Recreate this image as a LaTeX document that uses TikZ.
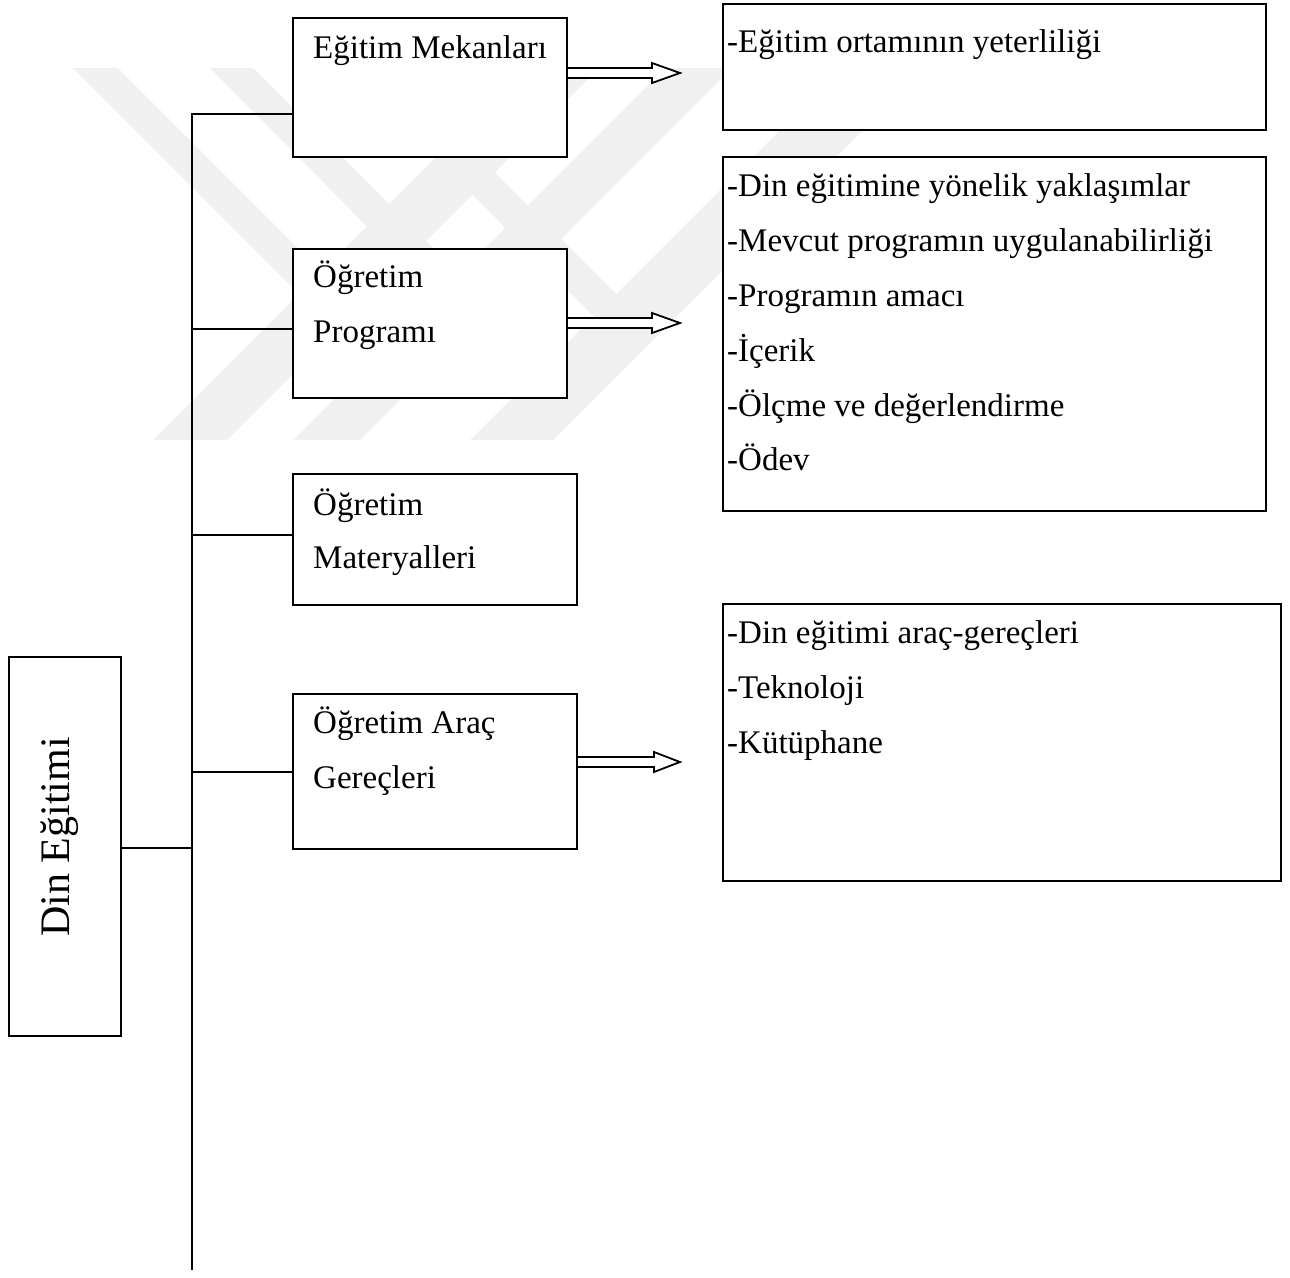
\documentclass[tikz,border=0pt]{standalone}
\usepackage{fontspec}
\setmainfont{Liberation Serif}
\begin{document}
\begin{tikzpicture}[x=1pt,y=-1pt,
  box/.style={draw=black, line width=2pt, fill=white, inner sep=0pt, anchor=north west},
  lbl/.style={anchor=base west, inner sep=0pt, font=\fontsize{33}{40}\selectfont},
  conn/.style={line width=2pt},
  harr/.style={line width=1.8pt, fill=white, line join=miter},
  wm/.style={fill=black!6, draw=none}]
\path[use as bounding box] (0,0) rectangle (1290,1277);
% watermark (approximate)
\fill[wm] (73,68) -- (118,68) -- (322,272) -- (299,294) -- cycle;
\fill[wm] (210,68) -- (253,68) -- (459,274) -- (436,296) -- cycle;
\fill[wm] (347,68) -- (390,68) -- (616,294) -- (593,316) -- cycle;
\fill[wm] (153,440) -- (227,440) -- (599,68) -- (525,68) -- cycle;
\fill[wm] (293,440) -- (360,440) -- (732,68) -- (665,68) -- cycle;
\fill[wm] (470,440) -- (553,440) -- (925,68) -- (842,68) -- cycle;
% main box
\node[box, minimum width=112pt, minimum height=379pt] (d) at (8,656) {};
\node[anchor=base, rotate=90, inner sep=0pt, font=\fontsize{42}{50}\selectfont] (dt) at (69,837) {Din Eğitimi};
% left boxes
\node[box, minimum width=274pt, minimum height=139pt] (b1) at (292,17) {};
\node[box, minimum width=274pt, minimum height=149pt] (b2) at (292,248) {};
\node[box, minimum width=284pt, minimum height=131pt] (b3) at (292,473) {};
\node[box, minimum width=284pt, minimum height=155pt] (b4) at (292,693) {};
\node[lbl] (t1) at (313,58) {Eğitim Mekanları};
\node[lbl] (t2a) at (313,287) {Öğretim};
\node[lbl] (t2b) at (313,342) {Programı};
\node[lbl] (t3a) at (313,515) {Öğretim};
\node[lbl] (t3b) at (313,568) {Materyalleri};
\node[lbl] (t4a) at (313,733) {Öğretim Araç};
\node[lbl] (t4b) at (313,788) {Gereçleri};
% right boxes
\node[box, minimum width=543pt, minimum height=126pt] (r1) at (722,3) {};
\node[box, minimum width=543pt, minimum height=354pt] (r2) at (722,156) {};
\node[box, minimum width=558pt, minimum height=277pt] (r3) at (722,603) {};
\node[lbl] (s1) at (727,52) {-Eğitim ortamının yeterliliği};
\node[lbl] (s2a) at (727,196) {-Din eğitimine yönelik yaklaşımlar};
\node[lbl] (s2b) at (727,251) {-Mevcut programın uygulanabilirliği};
\node[lbl] (s2c) at (727,306) {-Programın amacı};
\node[lbl] (s2d) at (727,361) {-İçerik};
\node[lbl] (s2e) at (727,416) {-Ölçme ve değerlendirme};
\node[lbl] (s2f) at (727,470) {-Ödev};
\node[lbl] (s3a) at (727,643) {-Din eğitimi araç-gereçleri};
\node[lbl] (s3b) at (727,698) {-Teknoloji};
\node[lbl] (s3c) at (727,753) {-Kütüphane};
% trunk and branches
\coordinate (j1) at (192,114);
\coordinate (j2) at (192,329);
\coordinate (j3) at (192,535);
\coordinate (j4) at (192,772);
\coordinate (j5) at (192,848);
\coordinate (jend) at (192,1270);
\draw[conn] (j1 -| b1.west) -- (j1) -- (jend);
\draw[conn] (j2) -- (j2 -| b2.west);
\draw[conn] (j3) -- (j3 -| b3.west);
\draw[conn] (j4) -- (j4 -| b4.west);
\draw[conn] (d.east |- j5) -- (j5);
% hollow arrows
\coordinate (a1) at (b1.east |- 0,73);
\coordinate (a2) at (b2.east |- 0,323);
\coordinate (a3) at (b4.east |- 0,762);
\draw[harr] (a1) ++(0,-5) -- ++(84,0) -- ++(0,-5) -- ++(28,10) -- ++(-28,10) -- ++(0,-5) -- ++(-84,0);
\draw[harr] (a2) ++(0,-5) -- ++(84,0) -- ++(0,-5) -- ++(28,10) -- ++(-28,10) -- ++(0,-5) -- ++(-84,0);
\draw[harr] (a3) ++(0,-5) -- ++(76,0) -- ++(0,-5) -- ++(26,10) -- ++(-26,10) -- ++(0,-5) -- ++(-76,0);
\end{tikzpicture}
\end{document}
